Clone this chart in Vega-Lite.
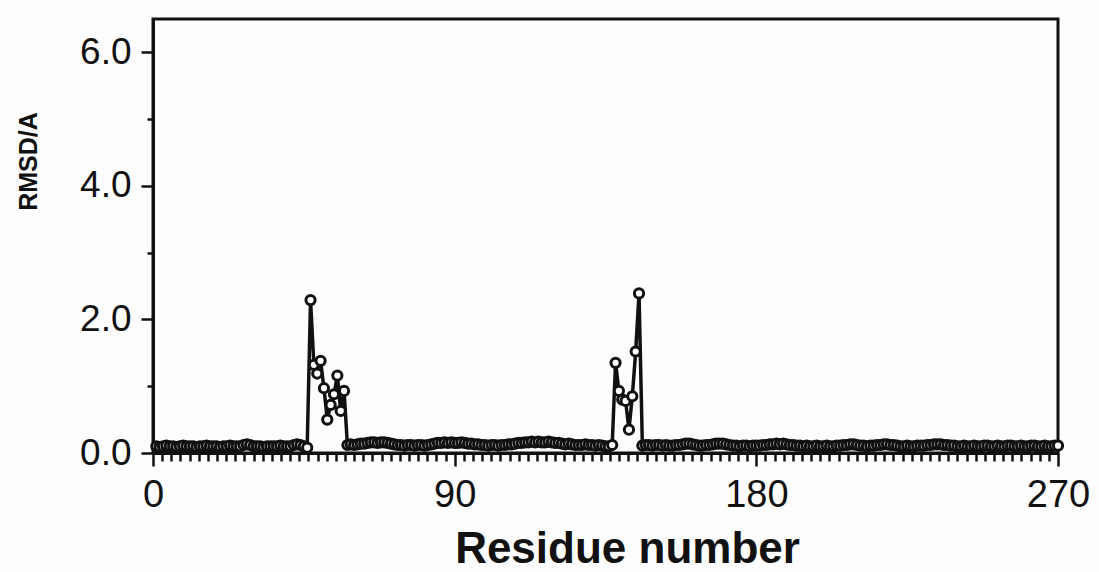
{
  "$schema": "https://vega.github.io/schema/vega-lite/v6.json",
  "autosize": "none",
  "padding": {"left": 153, "top": 19, "right": 41, "bottom": 119},
  "width": 905,
  "height": 434,
  "background": "#fdfdfd",
  "config": {
    "view": {"stroke": "#111111", "strokeWidth": 3, "fill": "#fdfdfd"},
    "font": "Liberation Sans"
  },
  "data": {
    "values": [
      {"r":1,"v":0.1},{"r":2,"v":0.09},{"r":3,"v":0.1},{"r":4,"v":0.11},{"r":5,"v":0.1},{"r":6,"v":0.1},{"r":7,"v":0.09},{"r":8,"v":0.1},{"r":9,"v":0.11},{"r":10,"v":0.1},
      {"r":11,"v":0.1},{"r":12,"v":0.1},{"r":13,"v":0.09},{"r":14,"v":0.1},{"r":15,"v":0.1},{"r":16,"v":0.11},{"r":17,"v":0.1},{"r":18,"v":0.1},{"r":19,"v":0.1},{"r":20,"v":0.09},
      {"r":21,"v":0.1},{"r":22,"v":0.1},{"r":23,"v":0.11},{"r":24,"v":0.1},{"r":25,"v":0.1},{"r":26,"v":0.1},{"r":27,"v":0.12},{"r":28,"v":0.13},{"r":29,"v":0.12},{"r":30,"v":0.1},
      {"r":31,"v":0.1},{"r":32,"v":0.1},{"r":33,"v":0.09},{"r":34,"v":0.1},{"r":35,"v":0.1},{"r":36,"v":0.1},{"r":37,"v":0.1},{"r":38,"v":0.11},{"r":39,"v":0.1},{"r":40,"v":0.1},
      {"r":41,"v":0.1},{"r":42,"v":0.12},{"r":43,"v":0.13},{"r":44,"v":0.12},{"r":45,"v":0.1},{"r":46,"v":0.08},{"r":47,"v":2.29},{"r":48,"v":1.32},{"r":49,"v":1.19},{"r":50,"v":1.38},
      {"r":51,"v":0.97},{"r":52,"v":0.5},{"r":53,"v":0.72},{"r":54,"v":0.88},{"r":55,"v":1.16},{"r":56,"v":0.63},{"r":57,"v":0.93},{"r":58,"v":0.12},{"r":59,"v":0.13},{"r":60,"v":0.12},
      {"r":61,"v":0.13},{"r":62,"v":0.14},{"r":63,"v":0.14},{"r":64,"v":0.15},{"r":65,"v":0.16},{"r":66,"v":0.16},{"r":67,"v":0.15},{"r":68,"v":0.16},{"r":69,"v":0.16},{"r":70,"v":0.15},
      {"r":71,"v":0.14},{"r":72,"v":0.13},{"r":73,"v":0.12},{"r":74,"v":0.12},{"r":75,"v":0.11},{"r":76,"v":0.12},{"r":77,"v":0.12},{"r":78,"v":0.11},{"r":79,"v":0.12},{"r":80,"v":0.12},
      {"r":81,"v":0.11},{"r":82,"v":0.12},{"r":83,"v":0.13},{"r":84,"v":0.14},{"r":85,"v":0.15},{"r":86,"v":0.15},{"r":87,"v":0.16},{"r":88,"v":0.15},{"r":89,"v":0.16},{"r":90,"v":0.15},
      {"r":91,"v":0.15},{"r":92,"v":0.16},{"r":93,"v":0.15},{"r":94,"v":0.14},{"r":95,"v":0.14},{"r":96,"v":0.13},{"r":97,"v":0.13},{"r":98,"v":0.12},{"r":99,"v":0.12},{"r":100,"v":0.11},
      {"r":101,"v":0.12},{"r":102,"v":0.12},{"r":103,"v":0.11},{"r":104,"v":0.12},{"r":105,"v":0.12},{"r":106,"v":0.13},{"r":107,"v":0.13},{"r":108,"v":0.14},{"r":109,"v":0.15},{"r":110,"v":0.15},
      {"r":111,"v":0.16},{"r":112,"v":0.16},{"r":113,"v":0.17},{"r":114,"v":0.16},{"r":115,"v":0.17},{"r":116,"v":0.16},{"r":117,"v":0.16},{"r":118,"v":0.17},{"r":119,"v":0.16},{"r":120,"v":0.15},
      {"r":121,"v":0.15},{"r":122,"v":0.14},{"r":123,"v":0.13},{"r":124,"v":0.14},{"r":125,"v":0.13},{"r":126,"v":0.12},{"r":127,"v":0.12},{"r":128,"v":0.12},{"r":129,"v":0.13},{"r":130,"v":0.12},
      {"r":131,"v":0.12},{"r":132,"v":0.11},{"r":133,"v":0.12},{"r":134,"v":0.11},{"r":135,"v":0.1},{"r":136,"v":0.1},{"r":137,"v":0.12},{"r":138,"v":1.35},{"r":139,"v":0.93},{"r":140,"v":0.8},
      {"r":141,"v":0.78},{"r":142,"v":0.35},{"r":143,"v":0.85},{"r":144,"v":1.52},{"r":145,"v":2.39},{"r":146,"v":0.11},{"r":147,"v":0.12},{"r":148,"v":0.12},{"r":149,"v":0.11},{"r":150,"v":0.12},
      {"r":151,"v":0.12},{"r":152,"v":0.11},{"r":153,"v":0.12},{"r":154,"v":0.11},{"r":155,"v":0.11},{"r":156,"v":0.12},{"r":157,"v":0.12},{"r":158,"v":0.13},{"r":159,"v":0.14},{"r":160,"v":0.14},
      {"r":161,"v":0.13},{"r":162,"v":0.12},{"r":163,"v":0.11},{"r":164,"v":0.11},{"r":165,"v":0.12},{"r":166,"v":0.12},{"r":167,"v":0.13},{"r":168,"v":0.14},{"r":169,"v":0.14},{"r":170,"v":0.14},
      {"r":171,"v":0.13},{"r":172,"v":0.12},{"r":173,"v":0.11},{"r":174,"v":0.11},{"r":175,"v":0.1},{"r":176,"v":0.11},{"r":177,"v":0.11},{"r":178,"v":0.1},{"r":179,"v":0.11},{"r":180,"v":0.11},
      {"r":181,"v":0.11},{"r":182,"v":0.12},{"r":183,"v":0.12},{"r":184,"v":0.13},{"r":185,"v":0.13},{"r":186,"v":0.14},{"r":187,"v":0.13},{"r":188,"v":0.14},{"r":189,"v":0.13},{"r":190,"v":0.12},
      {"r":191,"v":0.12},{"r":192,"v":0.11},{"r":193,"v":0.11},{"r":194,"v":0.1},{"r":195,"v":0.11},{"r":196,"v":0.1},{"r":197,"v":0.1},{"r":198,"v":0.11},{"r":199,"v":0.1},{"r":200,"v":0.1},
      {"r":201,"v":0.11},{"r":202,"v":0.1},{"r":203,"v":0.1},{"r":204,"v":0.11},{"r":205,"v":0.11},{"r":206,"v":0.12},{"r":207,"v":0.12},{"r":208,"v":0.13},{"r":209,"v":0.13},{"r":210,"v":0.12},
      {"r":211,"v":0.11},{"r":212,"v":0.11},{"r":213,"v":0.1},{"r":214,"v":0.11},{"r":215,"v":0.11},{"r":216,"v":0.12},{"r":217,"v":0.12},{"r":218,"v":0.13},{"r":219,"v":0.13},{"r":220,"v":0.12},
      {"r":221,"v":0.12},{"r":222,"v":0.11},{"r":223,"v":0.1},{"r":224,"v":0.1},{"r":225,"v":0.11},{"r":226,"v":0.1},{"r":227,"v":0.1},{"r":228,"v":0.11},{"r":229,"v":0.11},{"r":230,"v":0.11},
      {"r":231,"v":0.12},{"r":232,"v":0.12},{"r":233,"v":0.13},{"r":234,"v":0.13},{"r":235,"v":0.13},{"r":236,"v":0.12},{"r":237,"v":0.12},{"r":238,"v":0.11},{"r":239,"v":0.11},{"r":240,"v":0.1},
      {"r":241,"v":0.1},{"r":242,"v":0.11},{"r":243,"v":0.1},{"r":244,"v":0.1},{"r":245,"v":0.11},{"r":246,"v":0.1},{"r":247,"v":0.1},{"r":248,"v":0.11},{"r":249,"v":0.11},{"r":250,"v":0.1},
      {"r":251,"v":0.1},{"r":252,"v":0.11},{"r":253,"v":0.1},{"r":254,"v":0.1},{"r":255,"v":0.11},{"r":256,"v":0.11},{"r":257,"v":0.1},{"r":258,"v":0.1},{"r":259,"v":0.11},{"r":260,"v":0.1},
      {"r":261,"v":0.1},{"r":262,"v":0.11},{"r":263,"v":0.11},{"r":264,"v":0.1},{"r":265,"v":0.1},{"r":266,"v":0.11},{"r":267,"v":0.1},{"r":268,"v":0.1},{"r":269,"v":0.11},{"r":270,"v":0.11}
    ]
  },
  "encoding": {
    "x": {
      "field": "r",
      "type": "quantitative",
      "scale": {"domain": [0, 270], "nice": false, "zero": false},
      "axis": {
        "title": "Residue number",
        "titleFont": "Liberation Sans",
        "titleFontSize": 44,
        "titleFontWeight": "bold",
        "titleColor": "#111111",
        "titleBaseline": "alphabetic",
        "titleY": 109,
        "titleX": 474,
        "values": [0,2.727,5.455,8.182,10.909,13.636,16.364,19.091,21.818,24.545,27.273,
                   30,32.727,35.455,38.182,40.909,43.636,46.364,49.091,51.818,54.545,57.273,
                   60,62.727,65.455,68.182,70.909,73.636,76.364,79.091,81.818,84.545,87.273,
                   90,92.727,95.455,98.182,100.909,103.636,106.364,109.091,111.818,114.545,117.273,
                   120,122.727,125.455,128.182,130.909,133.636,136.364,139.091,141.818,144.545,147.273,
                   150,152.727,155.455,158.182,160.909,163.636,166.364,169.091,171.818,174.545,177.273,
                   180,182.727,185.455,188.182,190.909,193.636,196.364,199.091,201.818,204.545,207.273,
                   210,212.727,215.455,218.182,220.909,223.636,226.364,229.091,231.818,234.545,237.273,
                   240,242.727,245.455,248.182,250.909,253.636,256.364,259.091,261.818,264.545,267.273,
                   270],
        "labelExpr": "datum.value % 90 === 0 ? datum.label : ''",
        "labelOverlap": false,
        "labelFlush": false,
        "labelFont": "Liberation Sans",
        "labelFontSize": 38,
        "labelColor": "#111111",
        "labelPadding": 10,
        "tickSize": {"condition": {"test": "datum.value % 90 === 0", "value": 13}, "value": 8},
        "tickWidth": 2.5,
        "tickColor": "#111111",
        "domainWidth": 3,
        "domainColor": "#111111",
        "grid": false
      }
    },
    "y": {
      "field": "v",
      "type": "quantitative",
      "scale": {"domain": [0, 6.5], "nice": false},
      "axis": {
        "title": "RMSD/A",
        "titleFont": "Liberation Sans",
        "titleFontSize": 25,
        "titleFontWeight": "bold",
        "titleColor": "#111111",
        "titleBaseline": "alphabetic",
        "titleAngle": 270,
        "titleX": -117,
        "titleY": 142,
        "values": [0, 1, 2, 3, 4, 5, 6],
        "format": ".1f",
        "labelExpr": "datum.value % 2 === 0 ? datum.label : ''",
        "labelOverlap": false,
        "labelFlush": false,
        "labelFont": "Liberation Sans",
        "labelFontSize": 37,
        "labelColor": "#111111",
        "labelPadding": 10,
        "tickSize": {"condition": {"test": "datum.value % 2 === 0", "value": 12}, "value": 6},
        "tickWidth": 2.5,
        "tickColor": "#111111",
        "domainWidth": 3,
        "domainColor": "#111111",
        "grid": false
      }
    }
  },
  "layer": [
    {"mark": {"type": "line", "color": "#111111", "strokeWidth": 3.5}},
    {"mark": {"type": "point", "shape": "circle", "size": 85, "stroke": "#111111", "strokeWidth": 3, "fill": "#ffffff", "filled": false, "fillOpacity": 1}}
  ]
}
